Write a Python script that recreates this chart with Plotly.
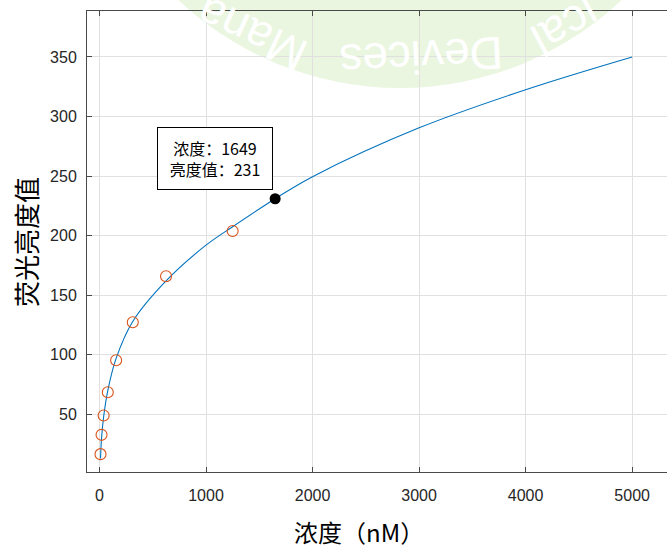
import plotly.graph_objects as go

# Measured samples (concentration in nM, fluorescence brightness)
conc = [9.77, 19.53, 39.06, 78.13, 156.25, 312.5, 625, 1250]
brightness = [16.6, 32.8, 49.0, 68.6, 95.4, 127.3, 165.9, 203.9]

# Fitted response curve
fit_x = [9.77, 19.53, 39.06, 78.13, 156.25, 312.5, 625, 1000, 1250, 1649, 2000, 3000, 4000, 5000]
fit_y = [13, 30, 48, 70, 97, 128, 162, 192, 207.5, 231, 249.5, 290.5, 322.5, 350]

# Highlighted point
tip_x = [1649]
tip_y = [231]

x_ticks = [0, 1000, 2000, 3000, 4000, 5000]
y_ticks = [50, 100, 150, 200, 250, 300, 350]

W, H = 667, 548
L, R, T, B = 87, 0, 11, 76
PW, PH = W - L - R, H - T - B


def px(xp):
    return (xp - L) / PW


def py(yp):
    return (H - B - yp) / PH


CJK = "Noto Sans CJK SC"
AX = "#4a4a4a"
TXT = "#262626"
GRID = "#e0e0e0"

fig = go.Figure()

fig.add_trace(go.Scatter(
    x=fit_x, y=fit_y, mode="lines",
    line=dict(color="#0072BD", width=1.1, shape="spline", smoothing=1.0),
    hoverinfo="skip", showlegend=False,
))
fig.add_trace(go.Scatter(
    x=conc, y=brightness, mode="markers",
    marker=dict(symbol="circle-open", size=11, color="#D95319", line=dict(width=1.1)),
    showlegend=False,
))
fig.add_trace(go.Scatter(
    x=tip_x, y=tip_y, mode="markers",
    marker=dict(symbol="circle", size=11, color="black"),
    showlegend=False,
))

# Data tip label
fig.add_annotation(
    x=tip_x[0], y=tip_y[0], xref="x", yref="y",
    text=f"浓度：{tip_x[0]}<br>亮度值：{tip_y[0]}",
    showarrow=False, xanchor="right", yanchor="bottom",
    xshift=-2, yshift=9,
    font=dict(family=CJK, size=16, color="black"),
    bgcolor="white", bordercolor="black", borderwidth=1, borderpad=8,
    width=98, align="center",
)

# Axis titles
fig.add_annotation(
    x=px(359), y=py(531), xref="paper", yref="paper",
    text="浓度（nM）", showarrow=False, xanchor="center", yanchor="middle",
    font=dict(family=CJK, size=24, color="black"),
)
fig.add_annotation(
    x=px(25), y=py(242), xref="paper", yref="paper",
    text="荧光亮度值", showarrow=False, xanchor="center", yanchor="middle",
    textangle=-90, font=dict(family=CJK, size=26, color="black"),
)

# Faint green stamp in the background
fig.add_shape(
    type="circle", xref="paper", yref="paper",
    x0=px(77), x1=px(723), y0=py(88), y1=py(-558),
    fillcolor="#eaf6e0", line=dict(width=0), layer="below",
)
for word, xc, yc, ang in [("Mana", 252, 34, 205), ("Devices", 421, 57, 177), ("ical", 566, 27, 152)]:
    fig.add_annotation(
        x=px(xc), y=py(yc), xref="paper", yref="paper", text=word,
        showarrow=False, xanchor="center", yanchor="middle", textangle=ang,
        font=dict(family="Liberation Sans", size=46, color="white"),
    )

fig.update_xaxes(
    range=[-117, 5327], tickvals=x_ticks, ticks="inside", ticklen=5,
    tickcolor=AX, showline=True, linecolor=AX, linewidth=1, mirror="ticks",
    showgrid=True, gridcolor=GRID, gridwidth=1, zeroline=False,
    tickfont=dict(family="Liberation Sans", size=16, color=TXT),
    ticklabelstandoff=9,
)
fig.update_yaxes(
    range=[1.6, 388.6], tickvals=y_ticks, ticks="inside", ticklen=5,
    tickcolor=AX, showline=True, linecolor=AX, linewidth=1, mirror=False,
    showgrid=True, gridcolor=GRID, gridwidth=1, zeroline=False,
    tickfont=dict(family="Liberation Sans", size=16, color=TXT),
    ticklabelstandoff=6,
)

fig.update_layout(
    width=W, height=H,
    margin=dict(l=L, r=R, t=T, b=B),
    paper_bgcolor="white", plot_bgcolor="rgba(0,0,0,0)",
    showlegend=False,
)

fig.write_html("out.html")
